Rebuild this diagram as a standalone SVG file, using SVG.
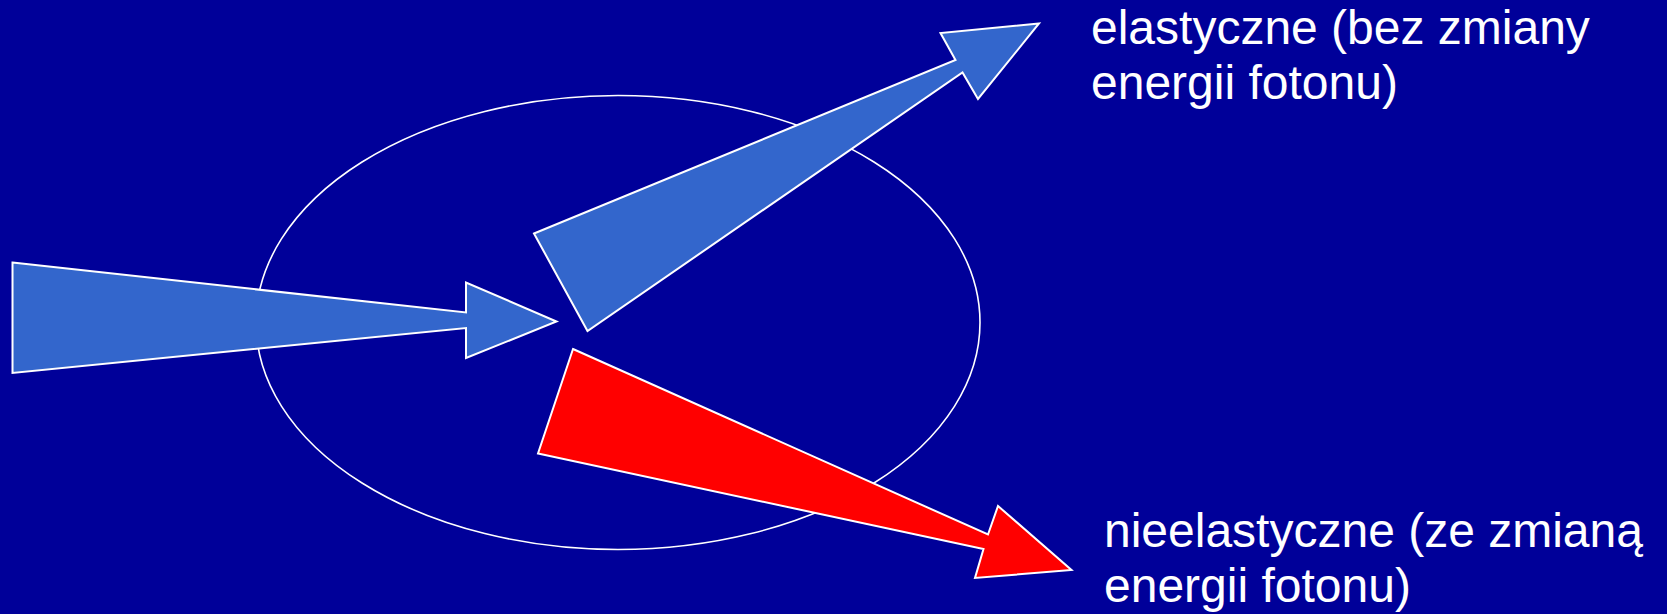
<svg xmlns="http://www.w3.org/2000/svg" width="1667" height="614" viewBox="0 0 1667 614">
<style>
.bg{fill:#000099}
.ring{fill:none;stroke:#ffffff;stroke-width:1.6}
.blue{fill:#3366CC;stroke:#ffffff;stroke-width:2;stroke-linejoin:miter}
.red{fill:#FF0000;stroke:#ffffff;stroke-width:2;stroke-linejoin:miter}
.lbl{font-family:"Liberation Sans",Arial,sans-serif;font-size:48px;fill:#ffffff}
</style>
<rect class="bg" x="0" y="0" width="1667" height="614"/>
<g id="atom">
<ellipse class="ring" cx="618" cy="322.5" rx="362" ry="227"/>
</g>
<g id="connectors">
<polygon id="incident" class="blue" points="12.5,262.5 466,312.5 466,282.5 556.5,321.5 466,358 466,328 12.5,373"/>
<polygon id="elastic" class="blue" points="534,233.5 955.5,60 940.5,33 1039,23.5 978,99 962.5,72.5 587.5,331"/>
<polygon id="inelastic" class="red" points="573,349 988,534.5 998,506 1071.5,570 975,578 983.5,549 538,453.5"/>
</g>
<g id="label-elastic">
<text class="lbl" x="1091" y="44">elastyczne (bez zmiany</text>
<text class="lbl" x="1091" y="99">energii fotonu)</text>
</g>
<g id="label-inelastic">
<text class="lbl" x="1104" y="547">nieelastyczne (ze zmianą</text>
<text class="lbl" x="1104" y="602">energii fotonu)</text>
</g>
</svg>
